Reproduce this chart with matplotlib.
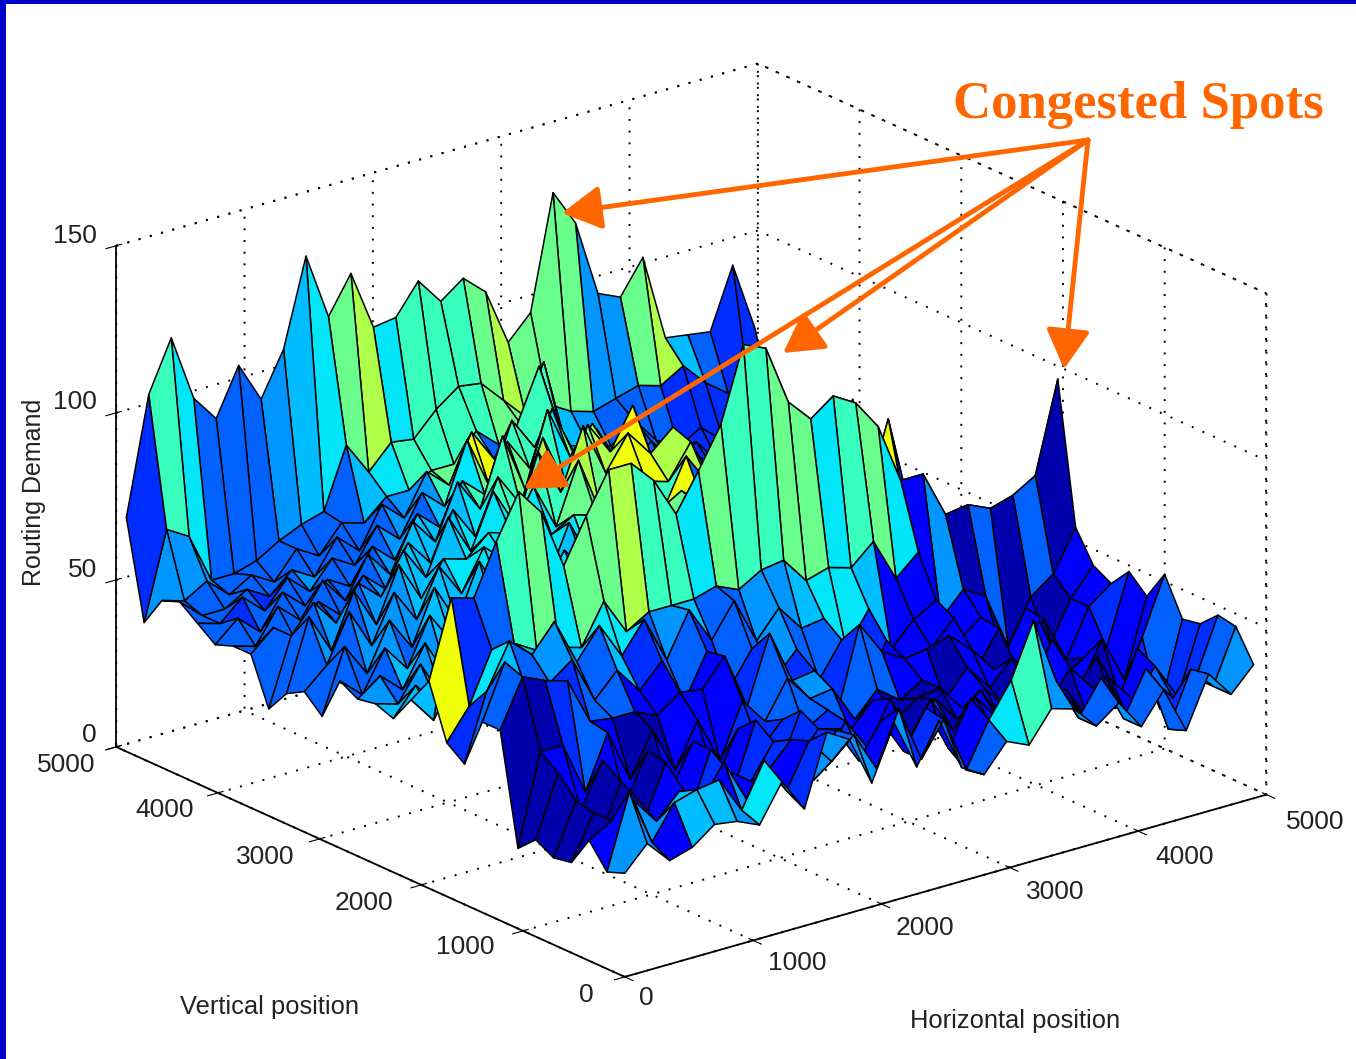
import numpy as np
import matplotlib
matplotlib.use("Agg")
import matplotlib.pyplot as plt
from matplotlib.patches import FancyArrowPatch, Rectangle

plt.rcParams['font.family'] = ['Liberation Sans', 'DejaVu Sans']
plt.rcParams['grid.color'] = 'black'
plt.rcParams['grid.linestyle'] = (0, (1, 5))
plt.rcParams['grid.linewidth'] = 1.4

# routing demand, one row per vertical position (front row first)
demand_rows = """
31 38 31 33 38 37 34 45 35 56 52 37 53 38 50 34 30 38 35 44 42 35 40 31 40 26 41 33 40
29 51 34 44 46 47 36 49 38 51 43 49 37 53 36 46 29 42 52 68 48 35 45 31 44 24 40 33 49
36 40 44 36 43 38 48 35 42 49 35 48 37 47 36 47 33 46 35 48 34 41 31 41 27 37 29 33 50
27 40 26 40 26 39 25 41 36 46 38 46 44 33 43 35 45 34 42 34 41 30 37 26 36 28 36 25 45
26 41 27 43 29 45 27 45 31 50 33 49 32 42 32 45 31 41 33 40 29 39 29 39 31 23 39 19 44
29 47 34 47 33 46 32 45 31 45 37 44 39 43 35 42 34 39 40 32 36 28 32 45 28 36 22 38 55
24 51 51 35 51 35 48 34 47 33 49 41 52 44 45 34 41 36 40 32 40 32 39 31 35 24 37 23 46
57 71 68 66 52 51 51 48 53 52 60 43 63 47 48 33 58 48 44 45 47 41 33 32 44 25 29 30 51
57 73 62 63 68 54 61 53 60 46 59 46 56 45 52 41 51 34 47 34 41 48 31 41 24 40 26 40 45
42 62 75 69 77 63 72 61 70 56 69 58 68 54 62 54 55 44 54 40 47 51 37 42 28 41 27 40 48
46 55 70 70 66 65 63 75 64 68 68 68 70 67 71 72 64 66 64 70 57 63 41 48 44 27 40 45 57
62 85 83 98 111 103 85 98 110 110 103 91 102 114 136 133 115 108 113 109 100 82 82 68 69 66 68 72 99
54 46 58 48 56 46 60 50 64 56 70 62 76 72 74 72 74 64 68 60 62 52 56 48 50 44 46 42 48
46 54 46 58 46 60 50 58 56 68 62 74 68 70 76 70 66 70 62 66 58 58 50 52 48 46 48 42 44
48 46 56 44 56 48 62 50 66 56 70 60 74 64 70 68 72 64 68 60 64 54 56 48 50 48 44 44 40
47 52 46 58 46 60 50 66 54 70 60 70 62 74 64 74 66 72 62 68 58 56 54 50 50 46 48 42 42
50 44 56 48 62 52 64 54 70 60 70 62 74 66 68 66 72 64 70 62 60 60 52 54 48 50 44 46 40
37 56 46 60 50 66 54 70 58 74 58 74 60 82 60 70 74 68 72 64 68 58 56 50 52 46 48 44 40
42 48 62 50 64 54 68 58 70 64 74 68 72 70 70 76 66 80 70 84 64 62 54 58 50 52 74 44 42
39 60 48 64 52 68 56 66 64 70 68 80 66 84 66 78 72 70 80 66 70 60 56 52 54 48 50 46 42
32 52 60 52 62 56 68 58 74 62 78 66 86 72 90 74 84 76 82 70 60 64 56 60 50 52 75 44 40
46 52 46 56 50 60 54 66 58 72 62 78 68 86 70 86 76 88 68 74 62 54 58 48 50 48 44 46 40
46 44 54 48 58 50 62 54 68 60 76 66 86 68 90 74 82 70 74 62 56 60 54 50 52 46 48 42 44
44 50 44 54 48 54 50 60 54 66 60 72 66 80 70 86 70 76 62 66 54 58 50 54 48 50 44 46 40
48 46 52 46 54 48 56 52 62 56 68 62 80 64 82 72 78 64 68 56 60 52 58 50 54 46 50 42 46
52 46 46 50 46 52 48 58 52 64 58 70 64 78 68 76 92 70 58 62 54 60 52 56 48 52 44 48 42
50 48 52 46 50 46 54 50 58 56 62 62 66 66 74 68 72 89 62 60 58 64 56 52 56 50 48 44 46
41 67 63 48 48 50 54 57 59 77 67 74 73 80 85 84 77 70 72 68 66 68 70 68 72 65 60 55 50
70 105 120 100 92 106 94 107 133 113 124 106 107 116 108 113 107 90 97 131 120 97 94 104 78 77 76 94 73
"""

# colour level of each facet (same order, hex digit: 0 navy ... 6 cyan ... a yellow)
level_rows = """
4 4 1 5 5 4 6 6 2 4 4 4 4 2 3 3 3 6 7 4 4 3 4 3 3 3 4 4
1 1 4 5 1 1 4 3 1 4 3 3 1 1 2 1 1 1 1 3 3 2 1 2 1 2 3 3
0 1 1 0 1 4 1 1 2 1 2 1 1 1 1 1 1 1 1 1 2 1 1 1 1 3 2 2
0 1 0 0 1 1 2 0 2 1 2 1 2 3 1 1 2 0 1 1 1 1 0 1 1 1 2 2
0 1 0 2 0 1 1 1 1 1 2 1 2 2 1 2 0 0 1 1 1 1 1 1 0 1 2 3
0 1 1 1 1 0 1 1 1 2 2 3 3 3 1 1 0 0 0 1 1 0 1 1 1 0 1 1
0 0 2 3 1 0 0 1 1 1 2 3 3 4 2 3 3 1 1 0 1 1 0 1 1 1 0 1
3 4 2 2 3 3 1 1 3 1 2 2 2 2 3 2 1 1 1 2 1 1 0 0 0 0 1 2
3 5 3 4 4 3 5 2 3 3 2 3 3 4 3 3 1 2 1 1 1 1 1 1 1 0 1 1
2 6 5 5 6 5 6 6 3 4 5 3 3 4 4 5 6 6 5 1 1 1 1 1 0 1 0 1
a 2 3 7 8 6 8 8 9 7 7 6 8 7 7 8 8 6 7 8 6 1 4 0 3 0 3 0
5 5 6 6 7 7 8 7 8 8 7 9 8 8 7 7 8 7 7 6 6 3 3 2 2 2 2 1
5 5 6 5 6 6 7 7 7 8 8 7 8 8 7 3 7 7 7 6 6 4 3 3 3 2 2 2
5 4 5 6 6 5 6 7 6 7 8 7 8 9 8 3 7 6 6 6 4 3 3 3 2 2 2 1
4 3 4 5 5 6 6 5 6 6 7 7 7 7 7 6 5 6 8 6 4 3 3 2 3 2 2 2
3 3 5 4 5 6 6 6 5 6 6 7 7 5 6 8 9 7 a 7 3 4 2 3 2 2 2 1
3 3 4 3 5 5 5 5 6 6 5 6 6 7 7 8 7 7 3 9 4 3 3 2 3 2 2 2
3 3 4 4 4 5 5 6 6 5 6 6 7 7 6 7 a 3 8 a 4 3 2 3 2 a 2 2
3 4 3 4 4 5 5 6 6 6 6 6 8 7 8 a 7 9 3 9 4 3 3 2 2 a 3 2
3 3 4 3 4 5 5 5 6 6 6 7 7 9 8 a a 9 8 6 3 3 2 3 2 2 2 2
3 3 3 3 3 4 5 5 5 6 7 7 9 a 8 9 a 8 5 3 3 3 3 2 2 2 2 2
3 3 3 3 3 3 4 5 5 5 6 7 8 7 6 9 7 6 7 6 3 2 2 2 2 2 2 2
3 3 3 3 3 3 3 4 5 5 5 7 7 8 6 8 7 6 6 5 3 2 3 2 2 2 2 2
3 2 3 3 3 3 3 3 4 3 5 6 8 7 7 8 7 7 5 4 3 3 2 2 2 2 2 2
3 3 3 2 3 4 3 3 3 4 4 7 a a 7 7 6 6 5 4 3 3 2 2 2 2 2 2
3 3 3 3 3 3 3 3 3 3 4 7 8 7 3 3 7 6 5 4 3 3 3 2 2 2 2 2
4 4 4 3 3 3 3 3 3 5 6 7 7 7 7 8 8 6 5 4 3 3 3 2 2 2 2 2
2 7 6 3 3 3 4 5 6 8 9 6 7 7 7 8 9 8 8 8 4 4 8 9 5 3 2 2
"""

level_values = [0.04, 0.11, 0.17, 0.22, 0.27, 0.31, 0.35, 0.42, 0.48, 0.56, 0.64]

tick_values = [0, 1000, 2000, 3000, 4000, 5000]
z_tick_values = [0, 50, 100, 150]
grid_step = 175

Z = np.array([[float(v) for v in line.split()] for line in demand_rows.strip().splitlines()])
levels = np.array([[int(v, 16) for v in line.split()] for line in level_rows.strip().splitlines()])

x = np.arange(Z.shape[1]) * grid_step
y = np.arange(Z.shape[0]) * grid_step
X, Y = np.meshgrid(x, y)

colors = plt.cm.jet(np.array(level_values)[levels])
colors = np.pad(colors, ((0, 1), (0, 1), (0, 0)), mode='edge')

fig = plt.figure(figsize=(13.56, 10.59), dpi=100)
ax = fig.add_axes([-1 / 1356, -5 / 1059, 1, 1], projection='3d', proj_type='ortho', computed_zorder=False)
ax.view_init(elev=21, azim=-128.4)
ax.set_box_aspect((816, 816, 535), zoom=1.17)

surf = ax.plot_surface(X, Y, Z, facecolors=colors, rcount=Z.shape[0], ccount=Z.shape[1],
                       shade=False, edgecolor='black', linewidth=1.1, antialiased=True, zorder=3)
surf.set_clip_on(False)

# top of the box, dotted like the grid
box_style = dict(color='black', linestyle=(0, (1, 5)), linewidth=1.4, zorder=1, clip_on=False)
ax.plot([0, 5000], [5000, 5000], [150, 150], **box_style)
ax.plot([5000, 5000], [0, 5000], [150, 150], **box_style)
ax.plot([5000, 5000], [0, 0], [0, 150], **box_style)

ax.set_xlim(0, 5000, view_margin=0)
ax.set_ylim(0, 5000, view_margin=0)
ax.set_zlim(0, 150, view_margin=0)
ax.set_xticks(tick_values)
ax.set_yticks(tick_values)
ax.set_zticks(z_tick_values)
ax.set_xticklabels([])
ax.set_yticklabels([])
ax.set_zticklabels([])

for axis in (ax.xaxis, ax.yaxis, ax.zaxis):
    axis.set_pane_color((1, 1, 1, 0))
    axis.pane.set_edgecolor((1, 1, 1, 0))
    axis.line.set_color('black')
    axis.line.set_linewidth(1.3)
ax.zaxis.set_ticks_position('upper')

# annotations and tick labels are placed in picture pixels
over = fig.add_axes([0, 0, 1, 1])
over.set_xlim(0, 1356)
over.set_ylim(1059, 0)
over.axis('off')
over.patch.set_alpha(0)

over.add_patch(Rectangle((0, 0), 1356, 4, color='#0000CC', lw=0))
over.add_patch(Rectangle((0, 0), 6, 1059, color='#0000CC', lw=0))

x_label_spots = [(646, 998), (797, 963), (925, 928), (1055, 892), (1185, 857), (1315, 822)]
y_label_spots = [(586, 995), (465, 947), (364, 903), (265, 857), (165, 810), (66, 765)]
z_label_spots = [(97, 735), (97, 570), (97, 402), (97, 236)]
for value, spot in zip(tick_values, x_label_spots):
    over.text(*spot, str(value), fontsize=19, color='#222222', ha='center', va='center')
for value, spot in zip(tick_values, y_label_spots):
    over.text(*spot, str(value), fontsize=19, color='#222222', ha='center', va='center')
for value, spot in zip(z_tick_values, z_label_spots):
    over.text(*spot, str(value), fontsize=19, color='#222222', ha='right', va='center')

over.text(270, 1007, 'Vertical position', fontsize=18.4, color='#222222', ha='center', va='center')
over.text(1015, 1021, 'Horizontal position', fontsize=18.4, color='#222222', ha='center', va='center')
over.text(34, 492, 'Routing Demand', fontsize=18, color='#222222', rotation=90, ha='center', va='center')

over.text(1138, 105, 'Congested Spots', fontsize=38, color='#FF6600', fontweight='bold',
          family=['Liberation Serif', 'DejaVu Serif'], ha='center', va='center')

arrow_start = (1088, 140)
arrow_ends = [(562, 213), (783, 353), (524, 489), (1064, 369)]
for end in arrow_ends:
    over.add_patch(FancyArrowPatch(arrow_start, end, arrowstyle='-|>,head_length=0.75,head_width=0.42',
                                   mutation_scale=32, color='#FF6600', lw=3.5, shrinkA=0, shrinkB=0,
                                   joinstyle='round', zorder=5))

fig.savefig('out.png', dpi=100)
